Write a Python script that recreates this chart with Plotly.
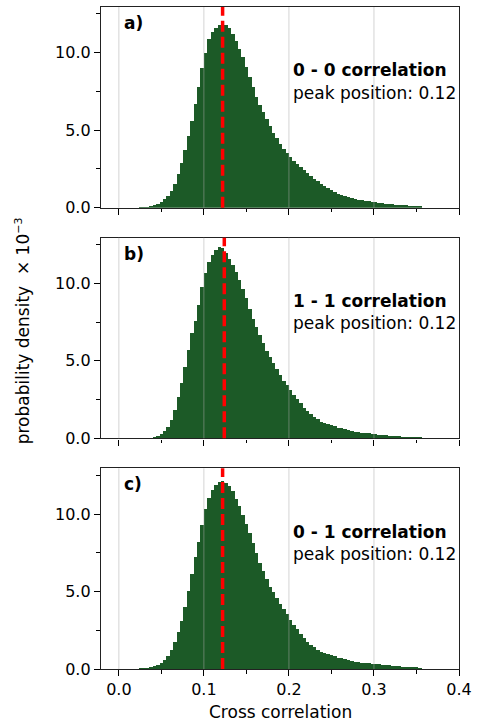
import numpy as np
import plotly.graph_objects as go
from plotly.subplots import make_subplots

# ---------------- data ----------------
bin_width = 0.004
first_center = 0.022

density_00 = [0.0, 0.01, 0.02, 0.04, 0.08, 0.15, 0.24, 0.37, 0.55, 0.75,
              1.08, 1.55, 2.2, 2.9, 3.7, 4.6, 5.6, 6.7, 7.8, 9.0,
              10.0, 10.9, 11.35, 11.6, 11.8, 11.9, 11.8, 11.6, 11.2, 10.75,
              10.25, 9.7, 9.1, 8.45, 7.8, 7.15, 6.65, 6.15, 5.7, 5.25,
              4.85, 4.5, 4.1, 3.8, 3.5, 3.25, 3.0, 2.8, 2.6, 2.42,
              2.25, 2.05, 1.88, 1.72, 1.56, 1.42, 1.28, 1.15, 1.02, 0.9,
              0.82, 0.75, 0.68, 0.62, 0.57, 0.53, 0.49, 0.45, 0.41, 0.38,
              0.35, 0.32, 0.29, 0.26, 0.24, 0.22, 0.2, 0.19, 0.17, 0.16,
              0.14, 0.13, 0.11, 0.1, 0.0]

density_11 = [0.0, 0.0, 0.01, 0.02, 0.04, 0.09, 0.2, 0.33, 0.5, 0.75,
              1.2, 1.85, 2.7, 3.6, 4.6, 5.7, 6.8, 7.6, 8.6, 9.8,
              10.7, 11.4, 11.85, 12.2, 12.35, 12.3, 12.0, 11.6, 11.2, 10.75,
              10.25, 9.65, 9.05, 8.4, 7.75, 7.2, 6.7, 6.15, 5.65, 5.25,
              4.9, 4.5, 4.1, 3.75, 3.45, 3.15, 2.85, 2.55, 2.3, 2.0,
              1.8, 1.6, 1.42, 1.25, 1.08, 1.0, 0.93, 0.86, 0.79, 0.72,
              0.66, 0.6, 0.55, 0.5, 0.46, 0.43, 0.4, 0.37, 0.34, 0.32,
              0.29, 0.26, 0.24, 0.22, 0.2, 0.18, 0.16, 0.15, 0.13, 0.12,
              0.1, 0.09, 0.07, 0.05, 0.0]

density_01 = [0.0, 0.01, 0.02, 0.04, 0.09, 0.17, 0.26, 0.38, 0.55, 0.8,
              1.2, 1.7, 2.35, 3.1, 4.0, 5.0, 6.1, 7.2, 8.2, 9.3,
              10.3, 11.0, 11.5, 11.85, 12.05, 12.1, 12.0, 11.8, 11.45, 10.95,
              10.5, 9.95, 9.35, 8.75, 8.1, 7.45, 6.85, 6.3, 5.8, 5.3,
              4.95, 4.55, 4.2, 3.85, 3.5, 3.15, 2.85, 2.55, 2.25, 1.98,
              1.75, 1.55, 1.38, 1.22, 1.08, 1.0, 0.93, 0.86, 0.79, 0.72,
              0.66, 0.6, 0.55, 0.5, 0.46, 0.42, 0.39, 0.36, 0.34, 0.32,
              0.3, 0.28, 0.26, 0.24, 0.22, 0.2, 0.18, 0.16, 0.14, 0.12,
              0.1, 0.08, 0.06, 0.04, 0.0]

panel_labels = ["a)", "b)", "c)"]
panel_titles = ["0 - 0 correlation", "1 - 1 correlation", "0 - 1 correlation"]
peak_positions = [0.122, 0.124, 0.122]
peak_labels = ["0.12", "0.12", "0.12"]
x_ticks = [0.0, 0.1, 0.2, 0.3, 0.4]
y_ticks = [0.0, 5.0, 10.0]
grid_x = [0.0, 0.1, 0.2, 0.3]

series = [density_00, density_11, density_01]
centers = first_center + bin_width * np.arange(len(density_00))

# ---------------- figure ----------------
FONT = "DejaVu Sans"
BAR_COLOR = "#1c5a27"

fig = make_subplots(rows=3, cols=1, shared_xaxes=True)

domains = [[0.6968, 1.0], [0.3484, 0.6516], [0.0, 0.3032]]

for i, vals in enumerate(series):
    r = i + 1
    fig.add_trace(go.Bar(x=centers, y=vals, width=bin_width,
                         marker=dict(color=BAR_COLOR, line=dict(width=0)),
                         showlegend=False, hoverinfo="skip"), row=r, col=1)
    ax = "" if r == 1 else str(r)
    for gx in grid_x:
        fig.add_shape(type="line", xref=f"x{ax}", yref=f"y{ax} domain",
                      x0=gx, x1=gx, y0=0, y1=1,
                      line=dict(color="rgba(170,170,170,0.5)", width=1),
                      layer="above")
    fig.add_shape(type="line", xref=f"x{ax}", yref=f"y{ax} domain",
                  x0=peak_positions[i], x1=peak_positions[i], y0=0, y1=1,
                  line=dict(color="#ff0000", width=3.5, dash="11px,5px"),
                  layer="above")
    fig.add_annotation(xref=f"x{ax} domain", yref=f"y{ax} domain",
                       x=0.058, y=0.92, xanchor="left", yanchor="middle",
                       text=f"<b>{panel_labels[i]}</b>", showarrow=False,
                       font=dict(family=FONT, size=17, color="black"))
    fig.add_annotation(xref=f"x{ax} domain", yref=f"y{ax} domain",
                       x=0.531, y=0.684, xanchor="left", yanchor="middle",
                       text=f"<b>{panel_titles[i]}</b>", showarrow=False,
                       font=dict(family=FONT, size=17, color="black"))
    fig.add_annotation(xref=f"x{ax} domain", yref=f"y{ax} domain",
                       x=0.531, y=0.574, xanchor="left", yanchor="middle",
                       text=f"peak position: {peak_labels[i]}", showarrow=False,
                       font=dict(family=FONT, size=17, color="black"))

    fig.update_xaxes(row=r, col=1,
                     range=[-0.021, 0.4], tickvals=x_ticks, tickformat=".1f",
                     showticklabels=(r == 3), ticks="outside", ticklen=6,
                     tickwidth=1, tickcolor="black",
                     minor=dict(dtick=0.05, tick0=0, ticks="outside", ticklen=3.5,
                                tickwidth=1, tickcolor="black"),
                     showgrid=False, zeroline=False,
                     showline=True, mirror=True, linecolor="#222", linewidth=1.3,
                     tickfont=dict(family=FONT, size=16, color="black"))
    fig.update_yaxes(row=r, col=1, domain=domains[i],
                     range=[0, 12.95], tickvals=y_ticks, tickformat=".1f",
                     ticks="outside", ticklen=6, tickwidth=1, tickcolor="black",
                     minor=dict(dtick=2.5, tick0=0, ticks="outside", ticklen=3.5,
                                tickwidth=1, tickcolor="black"),
                     showgrid=False, zeroline=False,
                     showline=True, mirror=True, linecolor="#222", linewidth=1.3,
                     tickfont=dict(family=FONT, size=16, color="black"))

fig.add_annotation(xref="paper", yref="paper", x=0.5, y=0, yshift=-43,
                   xanchor="center", yanchor="middle", showarrow=False,
                   text="Cross correlation",
                   font=dict(family=FONT, size=17, color="black"))
fig.add_annotation(xref="paper", yref="paper", x=-0.219, y=0.511,
                   xanchor="center", yanchor="middle", showarrow=False,
                   textangle=-90,
                   text="probability density  × 10<sup><span style='font-size:11px'>−3</span></sup>",
                   font=dict(family=FONT, size=17, color="black"))

fig.update_layout(width=478, height=723,
                  margin=dict(l=101, r=17, t=6, b=54),
                  plot_bgcolor="white", paper_bgcolor="white",
                  bargap=0, barmode="overlay",
                  font=dict(family=FONT, size=16, color="black"))

fig.write_html("out.html",
               config={"displayModeBar": False},
               post_script="document.body.style.margin='0';"
                           "document.body.style.overflow='hidden';")
